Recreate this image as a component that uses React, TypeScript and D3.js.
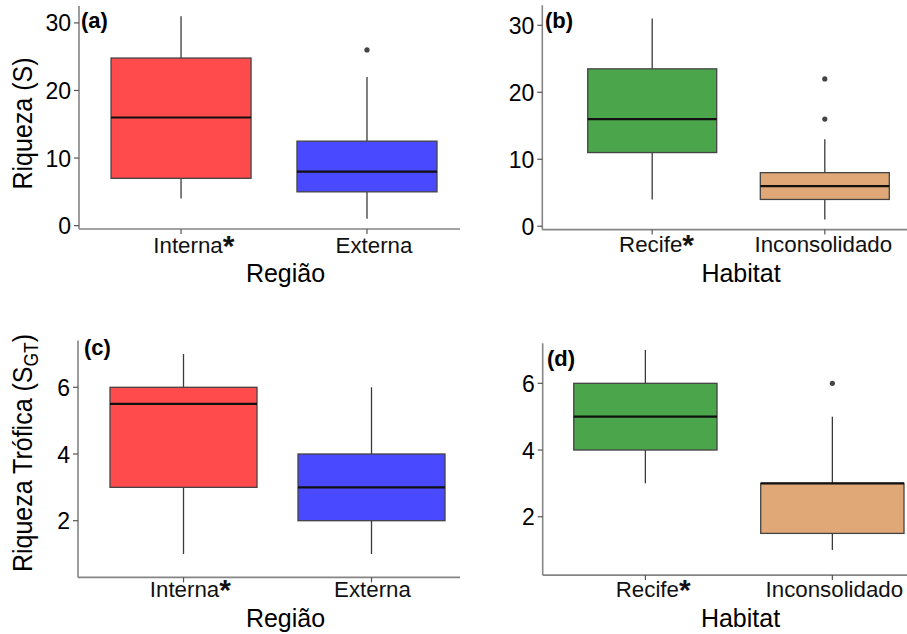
import React from "react";
import * as d3 from "d3";

// categories
const regiao = ["Interna", "Externa"];
const habitat = ["Recife", "Inconsolidado"];
const marcadas = ["Interna", "Recife"]; // significant, shown with *

// box summaries: [min, q1, median, q3, max]
const riquezaRegiao = [[4, 7, 16, 24.8, 31], [1, 5, 8, 12.5, 22]];
const riquezaRegiaoOut = [[], [26]];
const riquezaHabitat = [[4, 11, 16, 23.5, 31], [1, 4, 6, 8, 13]];
const riquezaHabitatOut = [[], [16, 22]];
const troficaRegiao = [[1, 3, 5.5, 6, 7], [1, 2, 3, 4, 6]];
const troficaRegiaoOut = [[], []];
const troficaHabitat = [[3, 4, 5, 6, 7], [1, 1.5, 3, 3, 5]];
const troficaHabitatOut = [[], [6]];

const ticksRiqueza = [0, 10, 20, 30];
const ticksTrofica = [2, 4, 6];

const coresRegiao = ["#ff4b4b", "#4949ff"];
const coresHabitat = ["#4ba54b", "#e0a876"];

const FONT = "'Liberation Sans', Arial, sans-serif";

type Panel = {
  tag: string;
  cats: string[];
  stats: number[][];
  out: number[][];
  fills: string[];
  ticks: number[];
  domain: [number, number];
  yr: [number, number];
  xr: [number, number];
  pi: number;
  po: number;
  align: number;
  xTitle: string;
  xTitleX: number;
  xTitleY: number;
  catY: number;
  catDx: number;
  tagX: number;
  tagY: number;
  yTitle?: "S" | "SGT";
  yTitleY?: number;
};

const panels: Panel[] = [
  {
    tag: "(a)", cats: regiao, stats: riquezaRegiao, out: riquezaRegiaoOut, fills: coresRegiao,
    ticks: ticksRiqueza, domain: [-0.5, 32.5], yr: [229, 6], xr: [79, 460],
    pi: 0.247, po: 0.148, align: 0.582,
    xTitle: "Região", xTitleX: 285.5, xTitleY: 282, catY: 252.5, catDx: 7,
    tagX: 81, tagY: 28, yTitle: "S", yTitleY: 123.5,
  },
  {
    tag: "(b)", cats: habitat, stats: riquezaHabitat, out: riquezaHabitatOut, fills: coresHabitat,
    ticks: ticksRiqueza, domain: [-0.5, 33], yr: [229.6, 5.2], xr: [542.3, 907],
    pi: 0.2526, po: 0.1828, align: 0.7195,
    xTitle: "Habitat", xTitleX: 741, xTitleY: 281.5, catY: 251.5, catDx: -1.5,
    tagX: 545, tagY: 28,
  },
  {
    tag: "(c)", cats: regiao, stats: troficaRegiao, out: troficaRegiaoOut, fills: coresRegiao,
    ticks: ticksTrofica, domain: [0.3, 7.4], yr: [577.4, 340.6], xr: [78, 460],
    pi: 0.218, po: 0.125, align: 0.681,
    xTitle: "Região", xTitleX: 285.5, xTitleY: 627, catY: 596.5, catDx: 1,
    tagX: 84, tagY: 355, yTitle: "SGT", yTitleY: 453,
  },
  {
    tag: "(d)", cats: habitat, stats: troficaHabitat, out: troficaHabitatOut, fills: coresHabitat,
    ticks: ticksTrofica, domain: [0.25, 7.2], yr: [575.1, 343.3], xr: [542.7, 907],
    pi: 0.2337, po: 0.091, align: 0.912,
    xTitle: "Habitat", xTitleX: 740.5, xTitleY: 626.5, catY: 596.5, catDx: 2,
    tagX: 547, tagY: 365.5,
  },
];

const STAR_SIZE = 30;

function BoxPanel({ p }: { p: Panel }) {
  const y = d3.scaleLinear().domain(p.domain).range(p.yr);
  const x = d3
    .scaleBand<string>()
    .domain(p.cats)
    .range(p.xr)
    .paddingInner(p.pi)
    .paddingOuter(p.po)
    .align(p.align);
  const bw = x.bandwidth();
  const axisX = p.xr[0];
  const axisY = p.yr[0];

  return (
    <g>
      {/* boxes */}
      {p.cats.map((c, i) => {
        const [mn, q1, md, q3, mx] = p.stats[i];
        const x0 = x(c)!;
        const cx = x0 + bw / 2;
        return (
          <g key={c}>
            <line x1={cx} x2={cx} y1={y(mx)} y2={y(q3)} stroke="#3a3a3a" strokeWidth={1.3} />
            <line x1={cx} x2={cx} y1={y(q1)} y2={y(mn)} stroke="#3a3a3a" strokeWidth={1.3} />
            <rect x={x0} y={y(q3)} width={bw} height={y(q1) - y(q3)} fill={p.fills[i]} stroke="#444" strokeWidth={1.3} />
            <line x1={x0} x2={x0 + bw} y1={y(md)} y2={y(md)} stroke="#111" strokeWidth={2.2} />
            {p.out[i].map((v, j) => (
              <circle key={j} cx={cx} cy={y(v)} r={2.6} fill="#444" />
            ))}
          </g>
        );
      })}

      {/* axes */}
      <line x1={axisX} x2={axisX} y1={p.yr[1]} y2={axisY} stroke="#858585" strokeWidth={1.6} />
      <line x1={axisX} x2={p.xr[1]} y1={axisY} y2={axisY} stroke="#858585" strokeWidth={1.6} />
      {p.ticks.map((t) => (
        <g key={t}>
          <line x1={axisX - 5} x2={axisX} y1={y(t)} y2={y(t)} stroke="#555" strokeWidth={1.2} />
          <text x={axisX - 8} y={y(t)} dy="0.37em" textAnchor="end" fontSize={23} fill="#000" fontFamily={FONT}>
            {t}
          </text>
        </g>
      ))}
      {p.cats.map((c) => {
        const cx = x(c)! + bw / 2;
        const star = marcadas.includes(c);
        return (
          <g key={c}>
            <line x1={cx} x2={cx} y1={axisY} y2={axisY + 5} stroke="#555" strokeWidth={1.2} />
            <text
              x={cx + p.catDx + (star ? STAR_SIZE * 0.389 * 0.5 : 0)}
              y={p.catY}
              textAnchor="middle"
              fontSize={22.3}
              fill="#111"
              fontFamily={FONT}
            >
              {c}
              {star && (
                <tspan fontWeight="bold" fontSize={STAR_SIZE} dy="3">
                  *
                </tspan>
              )}
            </text>
          </g>
        );
      })}

      {/* titles */}
      <text x={p.xTitleX} y={p.xTitleY} textAnchor="middle" fontSize={25} fill="#000" fontFamily={FONT}>
        {p.xTitle}
      </text>
      <text x={p.tagX} y={p.tagY} fontSize={22} fontWeight="bold" fill="#000" fontFamily={FONT}>
        {p.tag}
      </text>
      {p.yTitle && (
        <text
          transform={`translate(32,${p.yTitleY}) rotate(-90) scale(1,1.12)`}
          textAnchor="middle"
          fontSize={25}
          fill="#000"
          fontFamily={FONT}
        >
          {p.yTitle === "S" ? (
            "Riqueza (S)"
          ) : (
            <>
              Riqueza Trófica (S
              <tspan fontSize={17.5} dy="5">GT</tspan>
              <tspan dy="-5">)</tspan>
            </>
          )}
        </text>
      )}
    </g>
  );
}

export default function App() {
  return (
    <div style={{ position: "absolute", left: 0, top: 0 }}>
      <svg width={907} height={634} style={{ display: "block", background: "#fff" }}>
        {panels.map((p) => (
          <BoxPanel key={p.tag} p={p} />
        ))}
      </svg>
    </div>
  );
}
